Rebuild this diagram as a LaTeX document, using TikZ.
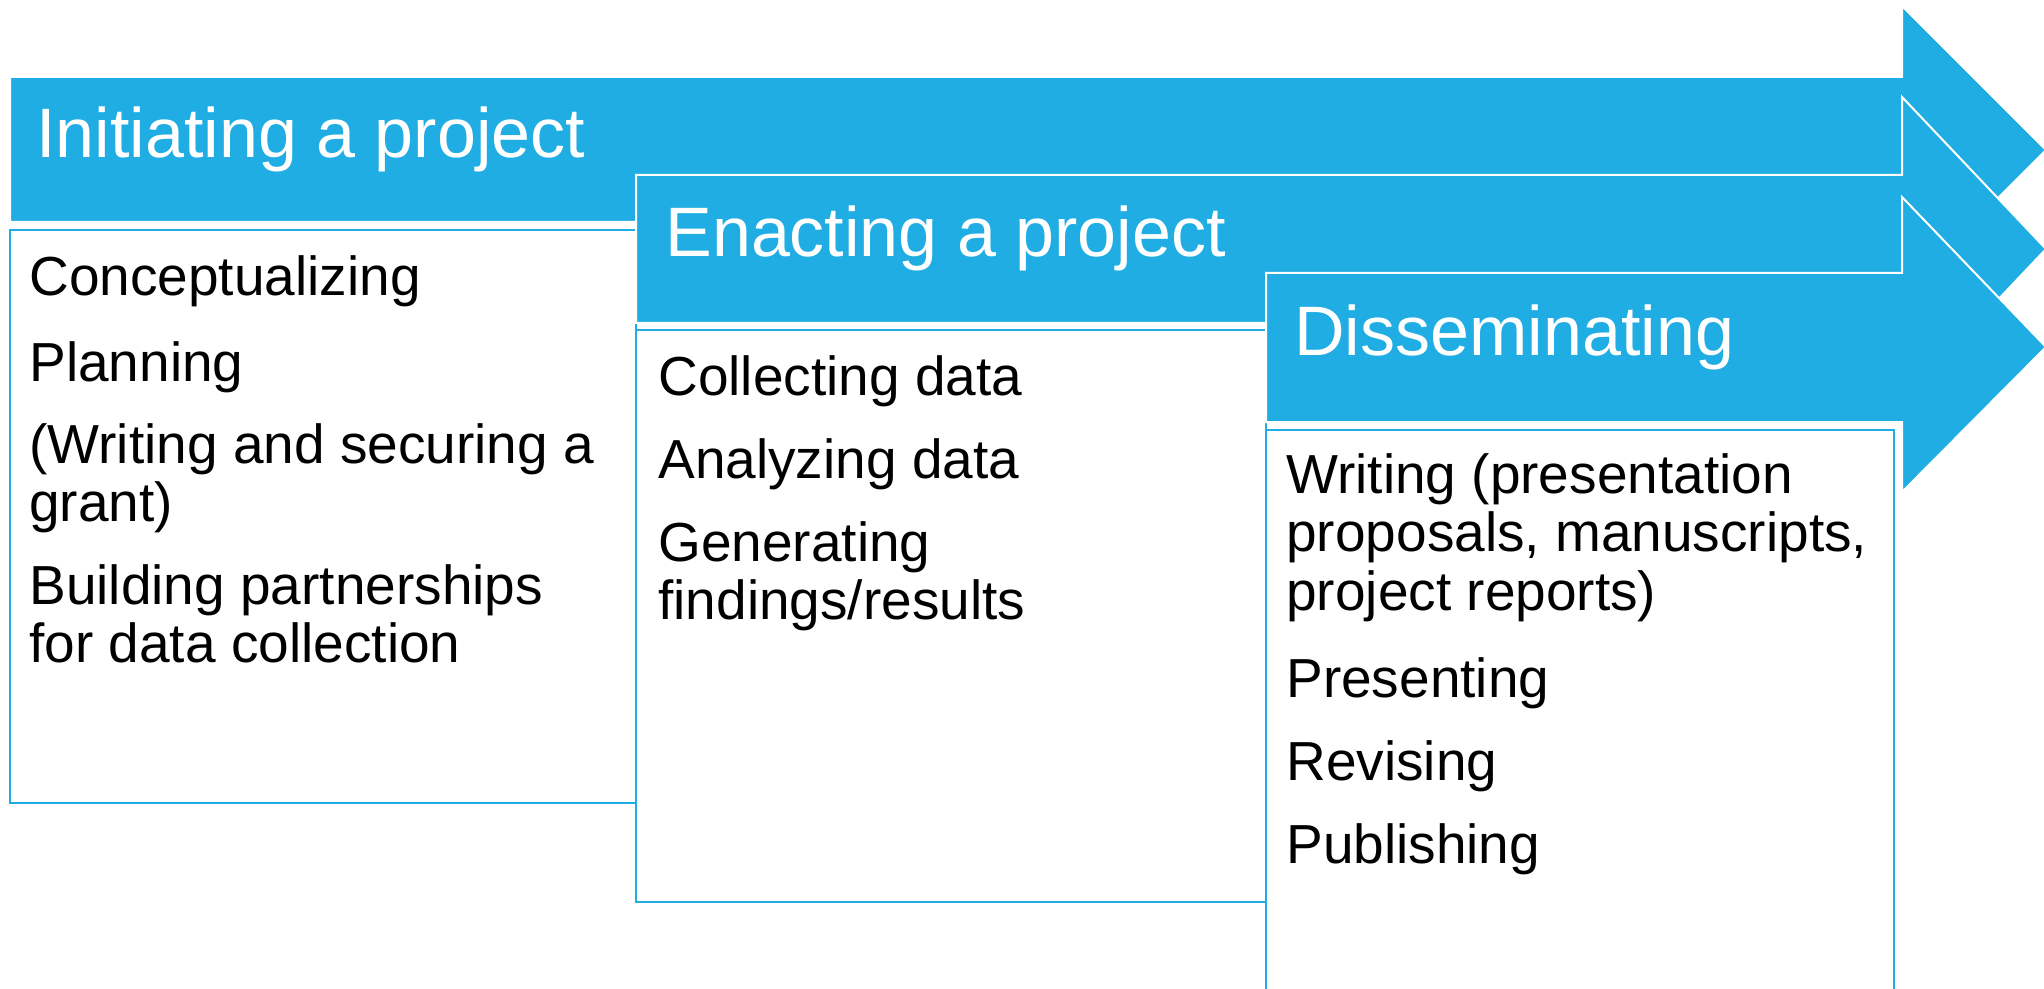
\documentclass[tikz,border=0pt]{standalone}
\usepackage{fontspec}
\setmainfont{Liberation Sans}
\definecolor{stepblue}{HTML}{1FADE4}
\begin{document}
\begin{tikzpicture}[x=0.5pt,y=-0.5pt,
  phase/.style={fill=stepblue,draw=white,line width=1pt,line join=miter},
  itembox/.style={draw=stepblue,line width=1.1pt,fill=white},
  headtext/.style={anchor=base west,text=white,font=\fontsize{35}{40}\selectfont,inner sep=0pt},
  itemtext/.style={anchor=base west,text=black,font=\fontsize{27.5}{29}\selectfont,inner sep=0pt},
]
\useasboundingbox (0,0) rectangle (2044,989);
% arrow 1 and its box
\draw[phase] (10,77) -- (1902,77) -- (1902,6) -- (2046,150) -- (1902,294) -- (1902,222) -- (10,222) -- cycle;
\draw[itembox] (10,230) rectangle (636,803);
% arrow 2 and its box
\draw[phase] (636,175) -- (1902,175) -- (1902,97) -- (2046,249) -- (1902,401) -- (1902,323) -- (636,323) -- cycle;
\draw[itembox] (636,330) rectangle (1266,902);
% arrow 3 and its box
\draw[phase] (1266,273) -- (1902,273) -- (1902,197) -- (2046,347) -- (1902,492) -- (1902,422) -- (1266,422) -- cycle;
\draw[itembox] (1266,430) rectangle (1894,1000);
% headings
\node[headtext] (h1) at (36,158) {Initiating a project};
\node[headtext] (h2) at (665,257) {Enacting a project};
\node[headtext] (h3) at (1294,356) {Disseminating};
% box 1 items
\node[itemtext] (a1) at (29,296) {Conceptualizing};
\node[itemtext] (a2) at (29,381) {Planning};
\node[itemtext] (a3) at (29,463) {(Writing and securing a};
\node[itemtext] (a4) at (29,521) {grant)};
\node[itemtext] (a5) at (29,604) {Building partnerships};
\node[itemtext] (a6) at (29,662) {for data collection};
% box 2 items
\node[itemtext] (b1) at (658,395) {Collecting data};
\node[itemtext] (b2) at (658,478) {Analyzing data};
\node[itemtext] (b3) at (658,561) {Generating};
\node[itemtext] (b4) at (658,619) {findings/results};
% box 3 items
\node[itemtext] (c1) at (1286,493) {Writing (presentation};
\node[itemtext] (c2) at (1286,551) {proposals, manuscripts,};
\node[itemtext] (c3) at (1286,610) {project reports)};
\node[itemtext] (c4) at (1286,697) {Presenting};
\node[itemtext] (c5) at (1286,780) {Revising};
\node[itemtext] (c6) at (1286,863) {Publishing};
\end{tikzpicture}
\end{document}
